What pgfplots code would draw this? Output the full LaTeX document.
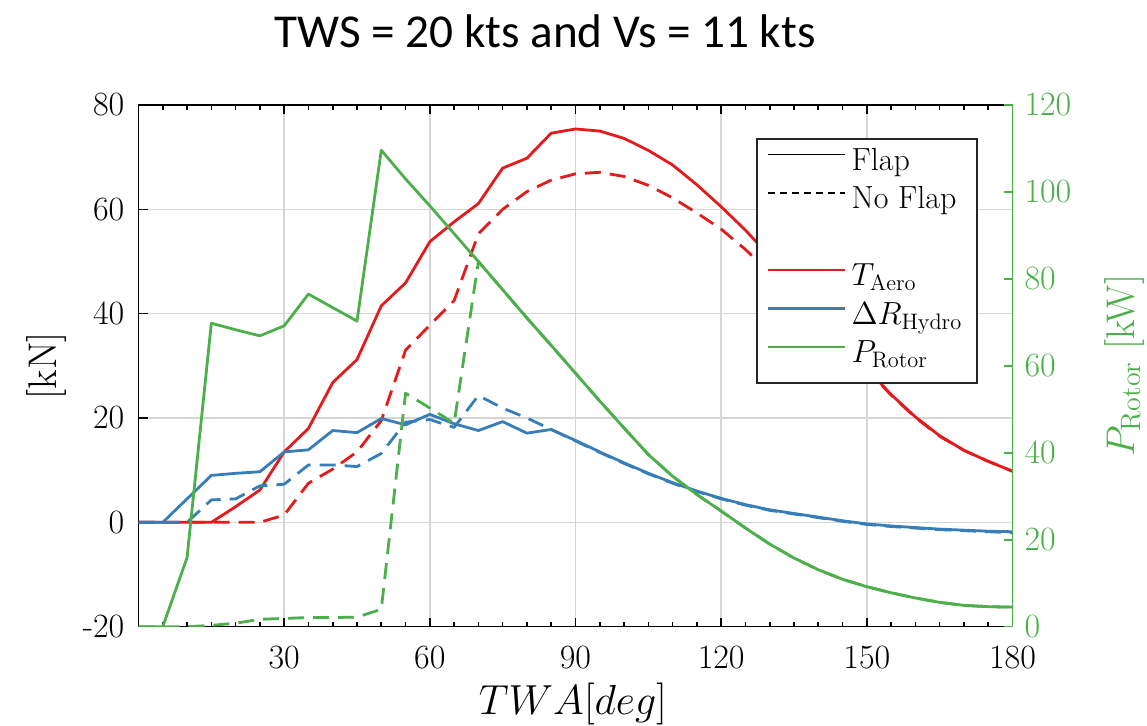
\RequirePackage{fix-cm}
\documentclass[border=0pt]{standalone}
\usepackage{fontspec}
\newfontfamily\carlito{Carlito}
\usepackage{pgfplots}
\pgfplotsset{compat=1.18}
\usepackage{pgfplotstable}

\definecolor{cred}{HTML}{E41A1C}
\definecolor{cblue}{HTML}{377EB8}
\definecolor{cgreen}{HTML}{4DAF4A}

\pgfplotstableread{
x Tf Tn Rf Rn Pf Pn
0 0 0 0 0 0 0
5 0 0 0 0 0 0
10 0 0 4.5 0 15.9 0
15 0 0 9.0 4.3 69.8 0.3
20 3.0 0 9.4 4.5 68.3 0.8
25 6.2 0 9.7 7.0 66.9 1.7
30 13.5 1.4 13.5 7.3 69.2 1.9
35 18.0 7.5 13.9 11.0 76.5 2.1
40 26.8 10.2 17.6 11.0 73.4 2.1
45 31.2 13.5 17.2 10.7 70.3 2.2
50 41.5 19.5 19.9 13.2 109.6 4.0
55 45.9 33.0 18.7 19.2 103.0 53.7
60 53.8 37.8 20.7 19.7 96.8 50.3
65 57.6 42.5 18.9 18.2 90.4 46.8
70 61.1 55.3 17.6 24.3 84.0 84.0
75 67.9 60.0 19.3 21.9 77.5 77.5
80 69.8 63.4 17.1 20.0 71.0 71.0
85 74.6 65.6 17.8 17.8 64.7 64.7
90 75.4 66.8 15.7 15.6 58.3 58.3
95 75.0 67.1 13.5 13.4 51.9 51.9
100 73.6 66.3 11.4 11.3 45.7 45.7
105 71.3 64.6 9.4 9.3 39.6 39.6
110 68.5 62.2 7.6 7.5 34.6 34.6
115 64.7 59.3 6.0 5.9 30.4 30.4
120 60.5 56.2 4.6 4.5 26.6 26.6
125 56.0 52.3 3.4 3.3 22.7 22.7
130 51.0 47.8 2.4 2.3 19.0 19.0
135 45.8 43.3 1.7 1.6 15.8 15.8
140 40.5 38.7 1.0 0.9 13.1 13.1
145 35.0 34.3 0.3 0.2 10.9 10.9
150 29.5 29.3 -0.3 -0.4 9.2 9.2
155 24.5 24.4 -0.7 -0.8 7.8 7.8
160 20.2 20.1 -1.0 -1.1 6.6 6.6
165 16.6 16.5 -1.3 -1.4 5.6 5.6
170 13.8 13.8 -1.5 -1.6 4.9 4.9
175 11.7 11.7 -1.7 -1.8 4.6 4.6
180 9.8 9.8 -1.8 -2.0 4.5 4.5
}\data

\tikzset{
  solidline/.style={line width=1.4pt, line join=round},
  dashline/.style={line width=1.4pt, dash pattern=on 8pt off 4.5pt, line join=round},
}

\begin{document}
\begin{tikzpicture}
\useasboundingbox (0,0) rectangle (573.5pt,363pt);

\begin{axis}[
  at={(69.25pt,49.65pt)}, anchor=south west,
  width=437pt, height=260.85pt, scale only axis,
  xmin=0, xmax=180, ymin=-20, ymax=80,
  xtick={30,60,...,180},
  minor xtick={0,5,...,180},
  ytick={-20,0,20,40,60,80},
  yticklabels={-20,0,20,40,60,80},
  xtick pos=both, ytick pos=left,
  tick align=inside,
  major tick length=4.5pt, minor tick length=2.5pt,
  grid=major,
  major grid style={black!16, line width=0.8pt},
  axis line style={black, line width=0.8pt},
  every tick/.style={black, line width=0.8pt},
  ticklabel style={font=\fontsize{17}{20}\selectfont},
  yticklabel style={xshift=-3.6pt},
  xticklabel style={yshift=-6.5pt},
  xlabel={$TWA[deg]$},
  xlabel style={at={(axis description cs:0.497,-0.169)}, anchor=base, font=\fontsize{21}{24}\selectfont},
  ylabel={[kN]},
  ylabel style={at={(axis description cs:-0.1058,0.5)}, anchor=center, font=\fontsize{20}{24}\selectfont},
  clip=true,
]
\addplot[cred, solidline] table[x=x, y=Tf] {\data};
\addplot[cred, dashline] table[x=x, y=Tn] {\data};
\addplot[cblue, solidline] table[x=x, y=Rf] {\data};
\addplot[cblue, dashline] table[x=x, y=Rn] {\data};
\end{axis}

\begin{axis}[
  at={(69.25pt,49.65pt)}, anchor=south west,
  width=437pt, height=260.85pt, scale only axis,
  xmin=0, xmax=180, ymin=0, ymax=120,
  axis y line*=right, axis x line=none,
  ytick={0,20,...,120},
  tick align=inside,
  major tick length=4.5pt,
  y axis line style={cgreen, line width=0.8pt},
  every tick/.style={cgreen, line width=0.8pt},
  ticklabel style={font=\fontsize{17}{20}\selectfont},
  yticklabel style={cgreen, xshift=2.5pt},
  ylabel={$P_{\mathrm{Rotor}}$ [kW]},
  ylabel style={cgreen, at={(axis description cs:1.1276,0.5)}, anchor=center, font=\fontsize{20}{24}\selectfont},
  legend style={
    at={(0.7065,0.9367)}, anchor=north west,
    draw=black!85, line width=0.8pt, fill=white,
    font=\fontsize{16}{18}\selectfont,
    inner xsep=5pt, inner ysep=3.25pt,
    row sep=0pt,
    nodes={inner xsep=2.5pt, inner ysep=0pt, text height=12.5pt, text depth=6.75pt},
  },
  legend cell align=left,
  legend image code/.code={\draw[#1] (0pt,5pt) -- (38.5pt,5pt);},
]
\addlegendimage{black, line width=0.8pt}
\addlegendentry{Flap}
\addlegendimage{black, line width=0.8pt, dash pattern=on 3.6pt off 2.4pt}
\addlegendentry{No Flap}
\addlegendimage{empty legend}
\addlegendentry{}
\addlegendimage{cred, line width=1.4pt}
\addlegendentry{$T_{\mathrm{Aero}}$}
\addlegendimage{cblue, line width=1.4pt}
\addlegendentry{$\Delta R_{\mathrm{Hydro}}$}
\addlegendimage{cgreen, line width=1.4pt}
\addlegendentry{$P_{\mathrm{Rotor}}$}
\addplot[cgreen, solidline, forget plot] table[x=x, y=Pf] {\data};
\addplot[cgreen, dashline, forget plot] table[x=x, y=Pn] {\data};
\end{axis}

\node[anchor=base, font=\carlito\fontsize{23.6}{28}\selectfont] at (272.5pt,339pt) {TWS = 20 kts and Vs = 11 kts};
\end{tikzpicture}
\end{document}
